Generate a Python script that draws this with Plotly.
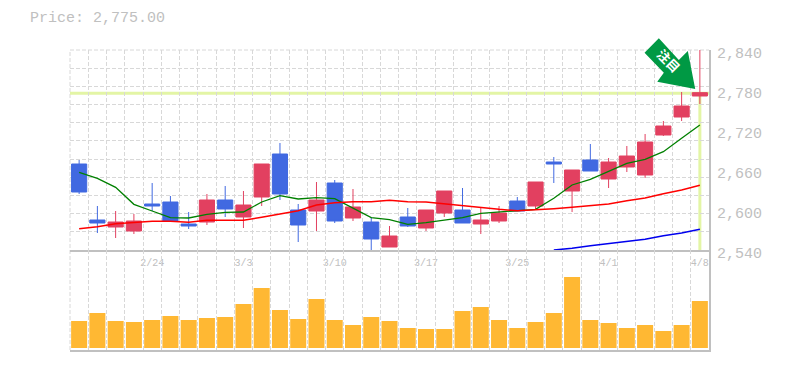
import plotly.graph_objects as go
from plotly.subplots import make_subplots

x = list(range(35))
opens = [2669,2585,2574.5,2568.5,2609,2612,2579,2582,2615,2589.5,2619.5,2684,2600,2598.5,2640.5,2588,2582,2544.5,2589.5,2573,2595.5,2600,2579,2583.5,2613.5,2606,2672,2628.5,2675,2646.5,2664.5,2652.5,2712.5,2739.5,2771]
closes = [2627,2580.5,2582,2583.5,2606,2583.5,2576,2615,2601.5,2607.5,2669,2624,2577.5,2615,2583.5,2604.5,2556.5,2561,2576,2600,2628.5,2580.5,2585,2595.5,2598.5,2642,2669,2660,2658.5,2672,2681,2702,2726,2756,2776]
highs = [2675,2606,2598.5,2594,2640.5,2621,2597,2624,2636,2628.5,2669,2700.5,2609,2642,2645,2631.5,2589.5,2576,2603,2600,2628.5,2633,2604.5,2606,2619.5,2642,2679.5,2660,2699,2678,2696,2714,2733.5,2777,2840]
lows = [2624,2565.5,2558,2564,2598.5,2583.5,2571.5,2577.5,2589.5,2573,2606,2615,2552,2568.5,2580.5,2583.5,2539,2544.5,2574.5,2568.5,2589.5,2580.5,2564,2580.5,2598.5,2600,2640.5,2597,2658.5,2633,2657,2648,2711,2733.5,2759]
ma_green = [2656.5,2647.5,2634,2608.5,2598.5,2588.5,2588,2593.5,2596.5,2597,2612,2621.5,2616.5,2618.5,2617,2602.5,2588.5,2585.5,2578.5,2581,2584.5,2588.5,2595,2597,2598.5,2601,2617.5,2637.5,2646,2657.5,2670,2676,2687.5,2707.5,2727.5]
ma_red = [2572,2575,2579.5,2581.5,2583,2583,2581.5,2584.5,2584.5,2584.5,2589,2594,2599,2607.5,2611,2612.5,2612.5,2614.5,2612.5,2612,2609,2606,2604,2601,2599,2600,2602,2604,2607,2609,2614,2618,2624.5,2630,2637]
ma_blue_x = [26,27,28,29,30,31,32,33,34]
ma_blue = [2540,2542.5,2546.5,2549.5,2552.5,2556,2561.5,2565.5,2571]
volume = [27,35,27,26,28,32,28,30,31,44,60,38,29,49,28,23,31,27,20,19,19,37,41,28,20,26,35,71,28,25,20,23,17,23,47]
date_positions = [4,9,14,19,24,29,34]
date_labels = ["2/24","3/3","3/10","3/17","3/25","4/1","4/8"]
price_ticks = [2540,2600,2660,2720,2780,2840]
price_labels = ["2,540","2,600","2,660","2,720","2,780","2,840"]
current_price = 2775
title_text = "Price: 2,775.00"
badge_text = "<b>注目</b>"

RED = "#E24060"
BLUE = "#4169E1"
GRID = "#D8D8D8"
AXIS = "#C0C0C0"
TEXT = "#C0C0C0"
MONO = "Liberation Mono"
DASH = "4px,2px"
L, R, T, B = 70, 709.5, 50, 350

fig = make_subplots(rows=2, cols=1, shared_xaxes=False, vertical_spacing=0, row_heights=[2, 1])

def px(xp): return (xp - L) / (R - L)
def py(yp): return 1 - (yp - T) / (B - T)

arrow = [(659.3,38.3),(645,52.7),(664.3,72.7),(657.7,81.7),(695.7,89),(688.3,51),(679.3,60)]
path = "M " + " L ".join(f"{px(a)},{py(b)}" for a, b in arrow) + " Z"

fig.add_trace(go.Scatter(x=x, y=ma_green, mode="lines", line=dict(color="#008000", width=1.3), hoverinfo="skip"), 1, 1)
fig.add_trace(go.Scatter(x=x, y=ma_red, mode="lines", line=dict(color="#FF0000", width=1.5), hoverinfo="skip"), 1, 1)
fig.add_trace(go.Scatter(x=ma_blue_x, y=ma_blue, mode="lines", line=dict(color="#0000EE", width=1.5), hoverinfo="skip"), 1, 1)
fig.add_trace(go.Candlestick(x=x, open=opens, high=highs, low=lows, close=closes, whiskerwidth=0,
    increasing=dict(line=dict(color=RED, width=1), fillcolor=RED),
    decreasing=dict(line=dict(color=BLUE, width=1), fillcolor=BLUE)), 1, 1)
fig.add_trace(go.Bar(x=x, y=volume, width=0.877, marker=dict(color="#FFB833", line=dict(width=0))), 2, 1)

xcommon = dict(range=[-0.5, 34.5], showgrid=False, zeroline=False, showline=True, linecolor=AXIS, linewidth=1.5,
               rangeslider=dict(visible=False),
               minor=dict(tick0=-0.5, dtick=1, showgrid=True, gridcolor=GRID, griddash=DASH, gridwidth=1, ticks=""))
fig.update_xaxes(**xcommon, tickmode="array", tickvals=date_positions, ticktext=date_labels, ticks="", ticklabelstandoff=2,
                 tickfont=dict(family=MONO, size=10, color=TEXT), row=1, col=1)
fig.update_xaxes(**xcommon, showticklabels=False, ticks="", row=2, col=1)
fig.update_yaxes(range=[2540, 2840], side="right", showline=True, linecolor=AXIS, linewidth=1.5, zeroline=False, showgrid=False,
                 showticklabels=False, ticks="",
                 minor=dict(tick0=2540, dtick=300/11, showgrid=True, gridcolor=GRID, griddash=DASH, gridwidth=1, ticks=""), row=1, col=1)
fig.update_yaxes(range=[-2, 98], side="right", showline=True, linecolor=AXIS, linewidth=1.5, zeroline=False, showgrid=False,
                 showticklabels=False, ticks="", row=2, col=1)

# Plot frame edges that Plotly does not draw as grid
fig.add_shape(type="line", xref="paper", yref="paper", x0=0, x1=0, y0=0, y1=1, line=dict(color=GRID, width=1, dash=DASH), layer="below")
fig.add_shape(type="line", xref="paper", yref="paper", x0=0, x1=1, y0=1, y1=1, line=dict(color=GRID, width=1, dash=DASH), layer="below")
fig.add_shape(type="line", xref="paper", x0=0, x1=1, yref="y", y0=current_price, y1=current_price,
              line=dict(color="#E3F5A5", width=3), layer="below")
fig.add_shape(type="line", xref="x", x0=34, x1=34, yref="y", y0=current_price, y1=2540,
              line=dict(color="#E3F5A5", width=3), layer="below")
fig.add_shape(type="path", xref="paper", yref="paper", path=path, fillcolor="#009944", line=dict(width=0), layer="above")
fig.add_shape(type="line", xref="paper", yref="paper", x0=px(660), y0=py(54), x1=px(676), y1=py(70),
              line=dict(color="rgba(0,0,0,0)", width=1), layer="above",
              label=dict(text=badge_text, textangle=45, textposition="middle", yanchor="middle", xanchor="center",
                         font=dict(family="Noto Sans CJK JP", size=13, color="#FFFFFF")))

for v, t in zip(price_ticks, price_labels):
    fig.add_annotation(x=1, xref="paper", xanchor="left", xshift=6, y=v, yref="y", yshift=-4, text=t, showarrow=False,
                       font=dict(family=MONO, size=15, color=TEXT))
fig.add_annotation(x=0, xref="paper", xanchor="left", xshift=-42, y=1, yref="paper", yanchor="bottom", yshift=21, text=title_text,
                   showarrow=False, font=dict(family=MONO, size=15, color=TEXT))

fig.update_layout(width=785, height=370, margin=dict(l=L, r=785-R, t=T, b=370-B), paper_bgcolor="white", plot_bgcolor="white",
                  showlegend=False, boxgap=0.17, boxgroupgap=0, hovermode=False)
fig.write_html("out.html", post_script="document.body.style.margin='0';", config=dict(displayModeBar=False))
